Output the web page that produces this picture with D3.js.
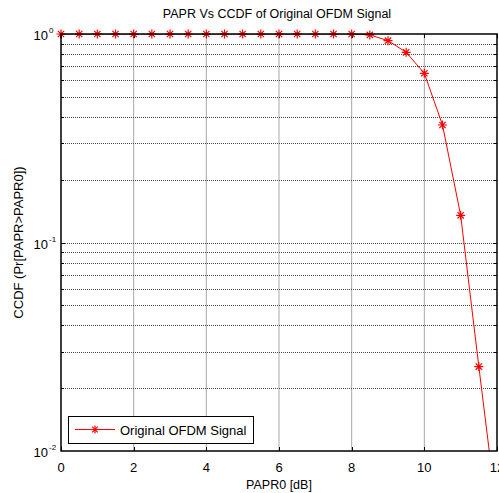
<!DOCTYPE html>
<html>
<head>
<meta charset="utf-8">
<script src="https://cdn.jsdelivr.net/npm/d3@7"></script>
<style>
  body { margin: 0; background: #fff; }
  text { font-family: "Liberation Sans", Arial, sans-serif; fill: #000; }
</style>
</head>
<body>
<div id="container"></div>
<script>
/* CONSTANTS AND GLOBALS */
const width = 499,
  height = 493,
  margin = { top: 34, bottom: 42, left: 61, right: 2 };

// data
const papr0 = [0, 0.5, 1, 1.5, 2, 2.5, 3, 3.5, 4, 4.5, 5, 5.5, 6, 6.5, 7, 7.5, 8, 8.5, 9, 9.5, 10, 10.5, 11, 11.5, 12];
const ccdf = [1, 1, 1, 1, 1, 1, 1, 1, 1, 1, 1, 1, 1, 1, 1, 1, 1, 0.99, 0.929, 0.817, 0.648, 0.366, 0.135, 0.0254, 0.005];
const xTicks = [0, 2, 4, 6, 8, 10, 12];
const yDecades = [0, -1, -2];

const title = "PAPR Vs CCDF of Original OFDM Signal";
const xLabel = "PAPR0 [dB]";
const yLabel = "CCDF (Pr[PAPR>PAPR0])";
const seriesName = "Original OFDM Signal";

const data = papr0.map((x, i) => ({ x: x, y: ccdf[i] }));

const svg = d3.select("#container")
  .append("svg")
  .attr("width", width)
  .attr("height", height);

const xScale = d3.scaleLinear()
  .domain([0, 12])
  .range([margin.left, width - margin.right]);

const yScale = d3.scaleLog()
  .domain([0.01, 1])
  .range([height - margin.bottom, margin.top]);

// minor values for log grid
let minor = [];
[0.01, 0.1].forEach(b => {
  for (let k = 2; k <= 9; k++) minor.push(b * k);
});

svg.append("clipPath").attr("id", "plotclip")
  .append("rect")
  .attr("x", xScale(0)).attr("y", yScale(1))
  .attr("width", xScale(12) - xScale(0))
  .attr("height", yScale(0.01) - yScale(1));

const grid = svg.append("g");

// vertical grid
grid.selectAll(".vgrid")
  .data(xTicks.slice(1, -1))
  .join("line")
  .attr("class", "vgrid")
  .attr("x1", d => xScale(d)).attr("x2", d => xScale(d))
  .attr("y1", yScale(1)).attr("y2", yScale(0.01))
  .attr("stroke", "#a8a8a8")
  .attr("stroke-width", 1);

// horizontal grid (major + minor)
grid.selectAll(".hgrid")
  .data(minor.concat([0.1]))
  .join("line")
  .attr("class", "hgrid")
  .attr("x1", xScale(0)).attr("x2", xScale(12))
  .attr("y1", d => Math.round(yScale(d)) + 0.5).attr("y2", d => Math.round(yScale(d)) + 0.5)
  .attr("stroke", "#4a4a4a")
  .attr("stroke-width", 1)
  .attr("stroke-dasharray", "1,1");

// tick marks inside box
const ticks = svg.append("g").attr("stroke", "#000").attr("stroke-width", 1);
xTicks.forEach(t => {
  const x = Math.round(xScale(t)) + 0.5;
  ticks.append("line").attr("x1", x).attr("x2", x).attr("y1", yScale(0.01)).attr("y2", yScale(0.01) - 4);
  ticks.append("line").attr("x1", x).attr("x2", x).attr("y1", yScale(1)).attr("y2", yScale(1) + 4);
});
minor.concat([0.1]).forEach(v => {
  const y = Math.round(yScale(v)) + 0.5;
  const len = v === 0.1 ? 4 : 3;
  ticks.append("line").attr("x1", xScale(0)).attr("x2", xScale(0) + len).attr("y1", y).attr("y2", y);
  ticks.append("line").attr("x1", xScale(12)).attr("x2", xScale(12) - len).attr("y1", y).attr("y2", y);
});

// the curve
const line = d3.line()
  .x(d => xScale(d.x))
  .y(d => yScale(d.y));

const plot = svg.append("g").attr("clip-path", "url(#plotclip)");

plot.append("path")
  .datum(data)
  .attr("d", line)
  .attr("fill", "none")
  .attr("stroke", "#ff0000")
  .attr("stroke-width", 1);

function star(g, cx, cy, r) {
  g.append("path")
    .attr("d", `M${cx - r},${cy}H${cx + r}M${cx},${cy - r}V${cy + r}` +
      `M${cx - r * 0.7},${cy - r * 0.7}L${cx + r * 0.7},${cy + r * 0.7}` +
      `M${cx - r * 0.7},${cy + r * 0.7}L${cx + r * 0.7},${cy - r * 0.7}`)
    .attr("stroke", "#ff0000")
    .attr("stroke-width", 1.2)
    .attr("fill", "none");
}

const markers = svg.append("g");
data.filter(d => d.y >= 0.01).forEach(d => star(markers, xScale(d.x), yScale(d.y), 4.5));

// axes box
svg.append("rect")
  .attr("x", xScale(0)).attr("y", yScale(1))
  .attr("width", xScale(12) - xScale(0))
  .attr("height", yScale(0.01) - yScale(1))
  .attr("fill", "none")
  .attr("stroke", "#000")
  .attr("stroke-width", 1.5);

// x tick labels
svg.selectAll(".xlab")
  .data(xTicks)
  .join("text")
  .attr("class", "xlab")
  .attr("x", d => xScale(d))
  .attr("y", height - margin.bottom + 21)
  .attr("text-anchor", "middle")
  .style("font-size", "13px")
  .text(d => d);

// y tick labels 10^n
yDecades.forEach(p => {
  const y = yScale(Math.pow(10, p));
  svg.append("text")
    .attr("x", 48)
    .attr("y", y + 6)
    .attr("text-anchor", "end")
    .style("font-size", "13px")
    .text("10");
  svg.append("text")
    .attr("x", 49)
    .attr("y", y - 1)
    .style("font-size", "8px")
    .text(p);
});

// title and labels
svg.append("text")
  .attr("x", 277)
  .attr("y", 18)
  .attr("text-anchor", "middle")
  .style("font-size", "12.5px")
  .text(title);

svg.append("text")
  .attr("x", (xScale(0) + xScale(12)) / 2)
  .attr("y", 489)
  .attr("text-anchor", "middle")
  .style("font-size", "12.5px")
  .text(xLabel);

svg.append("text")
  .attr("transform", `translate(23, ${(yScale(1) + yScale(0.01)) / 2}) rotate(-90)`)
  .attr("text-anchor", "middle")
  .style("font-size", "13px")
  .text(yLabel);

// legend
const legend = svg.append("g");
legend.append("rect")
  .attr("x", 68.5).attr("y", 416.5)
  .attr("width", 185).attr("height", 27)
  .attr("fill", "#fff")
  .attr("stroke", "#000")
  .attr("stroke-width", 1);
legend.append("line")
  .attr("x1", 75).attr("x2", 115)
  .attr("y1", 429.5).attr("y2", 429.5)
  .attr("stroke", "#ff0000");
star(legend, 95, 429.5, 4);
legend.append("text")
  .attr("x", 120)
  .attr("y", 434.5)
  .style("font-size", "13px")
  .text(seriesName);
</script>
</body>
</html>
